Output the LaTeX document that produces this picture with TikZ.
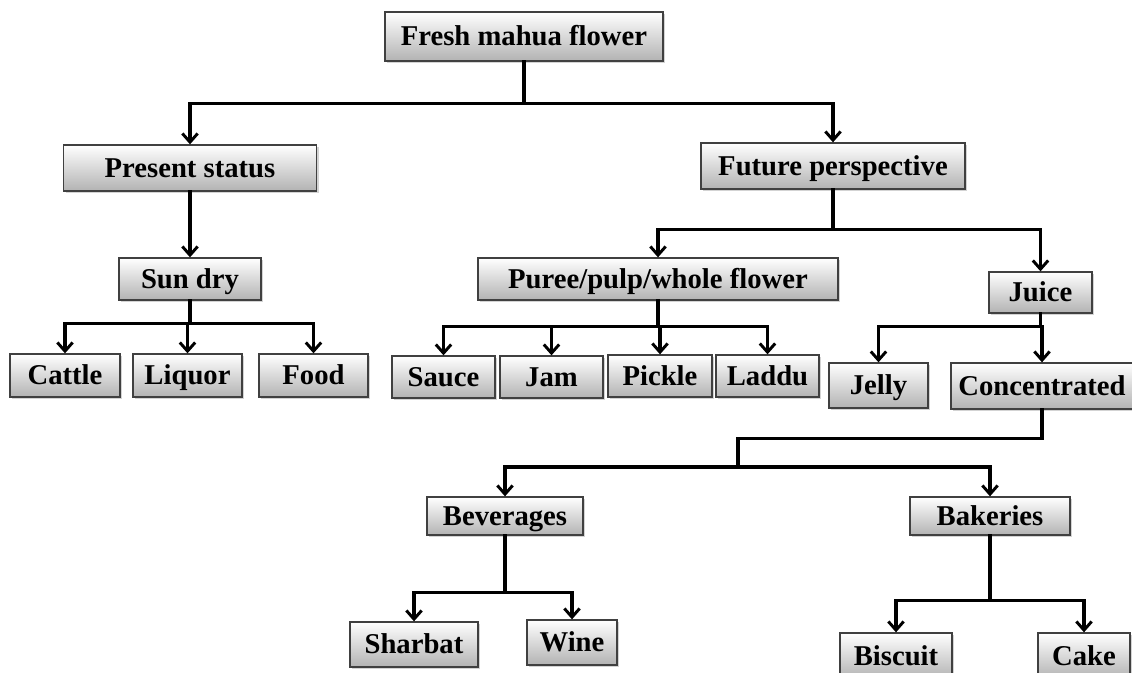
\documentclass[tikz,border=0pt]{standalone}
\usepackage{fontspec}
\setmainfont{Liberation Serif}
\usetikzlibrary{arrows.meta, shadows}

\begin{document}
\begin{tikzpicture}[x=0.75pt, y=-0.75pt,
	box/.style={draw=black!75, line width=1pt, inner sep=0pt, top color=white, bottom color=black!30,
		drop shadow={shadow xshift=1.5pt, shadow yshift=-1.5pt, opacity=0.35},
		text height=16pt, text depth=2.5pt,
		font=\fontsize{21.5}{24}\selectfont\bfseries},
	boxsz/.style 2 args={minimum width=#1*0.75pt, minimum height=#2*0.75pt},
	link/.style={line width=2.3pt, line cap=rect},
	arr/.style={link, -{Straight Barb[length=6.5pt, width=11.5pt, line width=2.2pt]}}]
	\useasboundingbox (0,0) rectangle (1132,672);
	
	% Top level
	\node[box, boxsz={278}{49}] (fresh) at (524,36.5) {Fresh mahua flower};
	\node[box, boxsz={253}{46}] (present) at (190,168) {Present status};
	\node[box, boxsz={264}{46}] (future) at (833,166) {Future perspective};
	
	% Present status branch
	\node[box, boxsz={142}{42}] (sundry) at (190,279) {Sun dry};
	\node[box, boxsz={110}{43}] (cattle) at (65,375.5) {Cattle};
	\node[box, boxsz={109}{43}] (liquor) at (187.5,375.5) {Liquor};
	\node[box, boxsz={109}{43}] (food) at (313.5,375.5) {Food};
	
	% Future perspective branch
	\node[box, boxsz={360}{42}] (puree) at (658,279) {Puree/pulp/whole flower};
	\node[box, boxsz={103}{41}] (juice) at (1040.5,292.5) {Juice};
	\node[box, boxsz={103}{42}] (sauce) at (443.5,377) {Sauce};
	\node[box, boxsz={103}{42}] (jam) at (551.5,377) {Jam};
	\node[box, boxsz={104}{42}] (pickle) at (660,376) {Pickle};
	\node[box, boxsz={103}{42}] (laddu) at (767.5,376) {Laddu};
	\node[box, boxsz={99}{45}] (jelly) at (878.5,385.5) {Jelly};
	\node[box, boxsz={182}{46}] (conc) at (1042,386) {Concentrated};
	
	% Products of the concentrate
	\node[box, boxsz={156}{38}] (bev) at (505,516) {Beverages};
	\node[box, boxsz={160}{38}] (bak) at (990,516) {Bakeries};
	\node[box, boxsz={128}{45}] (sharbat) at (414,644.5) {Sharbat};
	\node[box, boxsz={90}{45}] (wine) at (572,642.5) {Wine};
	\node[box, boxsz={112}{46}] (biscuit) at (896,656) {Biscuit};
	\node[box, boxsz={92}{46}] (cake) at (1084,656) {Cake};
	
	% Connectors
	\draw[arr] (fresh.south) -- ++(0,42) -| (present.north);
	\draw[arr] (fresh.south) -- ++(0,42) -| (future.north);
	
	\draw[arr] (present.south) -- (sundry.north);
	\foreach \c in {cattle,liquor,food}
		\draw[arr] (sundry.south) -- ++(0,23) -| (\c.north);
	
	\draw[arr] (future.south) -- ++(0,40) -| (puree.north);
	\draw[arr] (future.south) -- ++(0,40) -| (juice.north);
	\foreach \c in {sauce,jam,pickle,laddu}
		\draw[arr] (puree.south) -- ++(0,26) -| (\c.north);
	\foreach \c in {jelly,conc}
		\draw[arr] (juice.south) -- ++(0,13) -| (\c.north);
	
	\coordinate (cmid) at (738,467);
	\draw[link] (conc.south) -- ++(0,29) -| (cmid);
	\draw[arr] (cmid) -| (bev.north);
	\draw[arr] (cmid) -| (bak.north);
	
	\foreach \c in {sharbat,wine}
		\draw[arr] (bev.south) -- ++(0,57) -| (\c.north);
	\foreach \c in {biscuit,cake}
		\draw[arr] (bak.south) -- ++(0,65) -| (\c.north);
\end{tikzpicture}
\end{document}
